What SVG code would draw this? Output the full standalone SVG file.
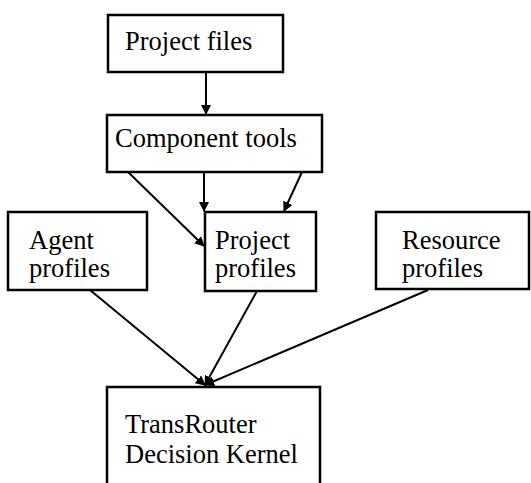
<svg xmlns="http://www.w3.org/2000/svg" width="531" height="483" viewBox="0 0 531 483">
<style>
.box{fill:#fff;stroke:#000;stroke-width:2.5}
.t{font-family:"Liberation Serif","Times New Roman",serif;font-size:26.5px;fill:#000}
.c{stroke:#000;stroke-width:2;fill:none}
</style>
<defs>
<marker id="ah" viewBox="0 0 10 10" refX="9" refY="5" markerWidth="5" markerHeight="5" orient="auto" markerUnits="strokeWidth">
<path d="M0,0 L10,5 L0,10 z" fill="#000"/>
</marker>
</defs>
<rect width="531" height="483" fill="#fff"/>
<g id="connectors">
<line class="c" x1="206" y1="72" x2="206" y2="114" marker-end="url(#ah)"/>
<line class="c" x1="204" y1="172" x2="204" y2="211" marker-end="url(#ah)"/>
<line class="c" x1="302" y1="172" x2="284" y2="211" marker-end="url(#ah)"/>
<line class="c" x1="128" y1="172" x2="204" y2="246" marker-end="url(#ah)"/>
<line class="c" x1="90" y1="290" x2="205" y2="385" marker-end="url(#ah)"/>
<line class="c" x1="257" y1="291" x2="205" y2="385" marker-end="url(#ah)"/>
<line class="c" x1="428" y1="290" x2="205" y2="385" marker-end="url(#ah)"/>
</g>
<g id="project-files">
<rect class="box" x="108" y="15" width="175" height="57"/>
<text class="t" x="125" y="50">Project files</text>
</g>
<g id="component-tools">
<rect class="box" x="107" y="115" width="215" height="57"/>
<text class="t" x="115" y="147">Component tools</text>
</g>
<g id="agent-profiles">
<rect class="box" x="8" y="212" width="139" height="78"/>
<text class="t" x="29" y="249">Agent</text>
<text class="t" x="29" y="277">profiles</text>
</g>
<g id="project-profiles">
<rect class="box" x="205" y="212" width="111" height="79"/>
<text class="t" x="215" y="249">Project</text>
<text class="t" x="215" y="277">profiles</text>
</g>
<g id="resource-profiles">
<rect class="box" x="376" y="212" width="153" height="77"/>
<text class="t" x="402" y="249">Resource</text>
<text class="t" x="402" y="277">profiles</text>
</g>
<g id="kernel">
<rect class="box" x="107" y="387" width="213" height="110"/>
<text class="t" x="125" y="433">TransRouter</text>
<text class="t" x="125" y="463">Decision Kernel</text>
</g>
</svg>
